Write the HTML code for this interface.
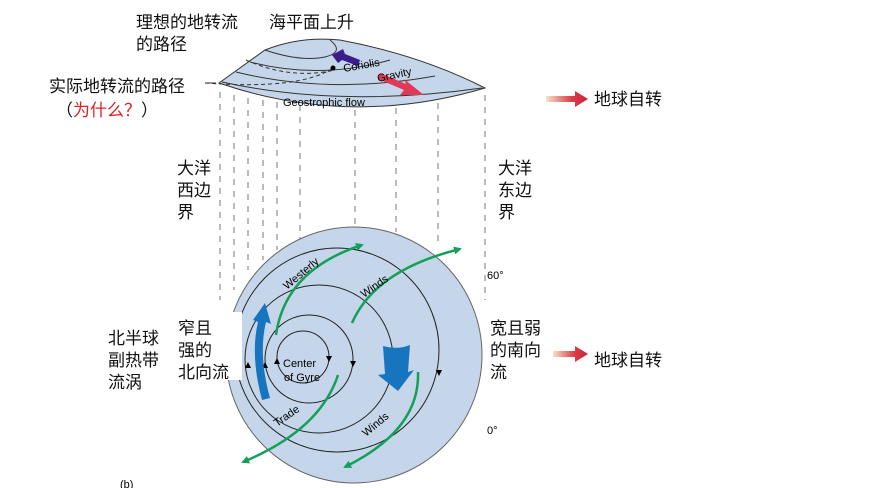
<!DOCTYPE html>
<html><head><meta charset="utf-8"><style>
body{margin:0;background:#fff;}
svg{display:block;font-family:"Liberation Sans","Noto Sans CJK SC",sans-serif;}
.cn{font-size:17px;fill:#111;}
</style></head><body>
<svg width="893" height="488" viewBox="0 0 893 488">
<defs>
<linearGradient id="ar" x1="0" x2="1"><stop offset="0" stop-color="#f6e3c8"/><stop offset="0.6" stop-color="#d8404a"/><stop offset="1" stop-color="#d01f36"/></linearGradient>
<marker id="g" markerWidth="8" markerHeight="8" refX="6" refY="4" orient="auto" markerUnits="userSpaceOnUse"><path d="M0,0 L8,4 L0,8 Z" fill="#14a058"/></marker>
</defs>
<g stroke="#777" stroke-width="1" stroke-dasharray="6,6">
<line x1="220" y1="92" x2="220" y2="300"/><line x1="234" y1="95" x2="234" y2="290"/><line x1="248" y1="98" x2="248" y2="270"/><line x1="263" y1="100" x2="263" y2="260"/><line x1="277" y1="102" x2="277" y2="250"/><line x1="300" y1="105" x2="300" y2="240"/><line x1="355" y1="110" x2="355" y2="232"/><line x1="396" y1="108" x2="396" y2="232"/><line x1="438" y1="103" x2="438" y2="245"/><line x1="485" y1="95" x2="485" y2="300"/>
</g>
<path d="M219,83 L265,50 Q300,36 340,40 Q420,55 485,88 Q350,128 219,83 Z" fill="#c5d6ea" stroke="#333" stroke-width="1"/>
<g fill="none" stroke="#333" stroke-width="1">
<path d="M265,50 Q300,62 325,57 Q345,52 330,40"/>
<path d="M250,62 Q320,80 390,60"/>
<path d="M236,72 Q330,95 435,76"/>
<path d="M222,82 Q340,108 482,88"/>
</g>
<g fill="none" stroke="#333" stroke-dasharray="4,3">
<path d="M246,60 Q290,80 335,70"/>
<path d="M205,83 Q300,90 333,68"/>
</g>
<circle cx="333" cy="68" r="2.5" fill="#000"/>
<path d="M360,60 L345,54 L343,49 L332,55 L338,63 L342,60 L358,66 Z" fill="#3a1d8a"/>
<path d="M380,73 L406,84 L404,79 L424,95 L400,95 L404,90 L378,79 Z" fill="#e03a58"/>
<text x="344" y="72" font-size="11" transform="rotate(-10 344 72)">Coriolis</text>
<text x="378" y="82" font-size="11" transform="rotate(-12 378 82)">Gravity</text>
<text x="283" y="106" font-size="11">Geostrophic flow</text>
<circle cx="354" cy="355" r="128" fill="#c5d6ea" stroke="#666"/>
<g fill="none" stroke="#222" stroke-width="1">
<circle cx="303" cy="357" r="26"/>
<circle cx="309" cy="359" r="44"/>
<circle cx="319" cy="359" r="74"/>
<circle cx="337" cy="350" r="102"/>
</g>
<g fill="#000">
<path d="M277,358 l-3,6 h6 z"/><path d="M265,362 l-3,6 h6 z"/><path d="M248,362 l-3,6 h6 z"/>
<path d="M329,362 l-3,-6 h6 z"/><path d="M353,367 l-3,-6 h6 z"/><path d="M393,372 l-3,-6 h6 z"/><path d="M439,376 l-3,-6 h6 z"/>
</g>
<path d="M262,400 Q250,355 258,322 L253,320 L265,303 L271,324 L266,322 Q258,355 270,398 Z" fill="#1775c0"/>
<path d="M383,346 Q398,350 410,345 L408,372 L414,370 L398,391 L378,375 L385,374 Z" fill="#1775c0"/>
<g fill="none" stroke="#14a058" stroke-width="2.5" marker-end="url(#g)">
<path d="M276,335 Q285,270 362,245"/>
<path d="M352,323 Q375,270 460,249"/>
<path d="M338,375 Q320,430 243,462"/>
<path d="M418,372 Q420,430 345,467"/>
</g>
<text x="283" y="367" font-size="11">Center</text><text x="284" y="381" font-size="11">of Gyre</text>
<text x="287" y="290" font-size="11" transform="rotate(-40 287 290)">Westerly</text>
<text x="364" y="298" font-size="11" transform="rotate(-35 364 298)">Winds</text>
<text x="277" y="427" font-size="11" transform="rotate(-35 277 427)">Trade</text>
<text x="366" y="437" font-size="11" transform="rotate(-40 366 437)">Winds</text>
<text x="487" y="279" font-size="11">60°</text>
<text x="487" y="434" font-size="11">0°</text>
<rect x="170" y="312" width="72" height="68" fill="#fff"/>
<text class="cn" x="136" y="28">理想的地转流</text>
<text class="cn" x="136" y="50">的路径</text>
<text class="cn" x="269" y="28">海平面上升</text>
<text class="cn" x="49" y="92">实际地转流的路径</text>
<text class="cn" x="56" y="116">（<tspan fill="#e02020">为什么？</tspan>）</text>
<line x1="205" y1="83" x2="216" y2="83" stroke="#333"/>
<text class="cn" x="177" y="174">大洋</text><text class="cn" x="177" y="196">西边</text><text class="cn" x="177" y="218">界</text>
<text class="cn" x="498" y="174">大洋</text><text class="cn" x="498" y="196">东边</text><text class="cn" x="498" y="218">界</text>
<text class="cn" x="108" y="344">北半球</text><text class="cn" x="108" y="366">副热带</text><text class="cn" x="108" y="388">流涡</text>
<text class="cn" x="178" y="334">窄且</text><text class="cn" x="178" y="356">强的</text><text class="cn" x="178" y="378">北向流</text>
<text class="cn" x="490" y="334">宽且弱</text><text class="cn" x="490" y="356">的南向</text><text class="cn" x="490" y="378">流</text>
<path d="M546,96 L575,96 L575,91 L588,99 L575,107 L575,102 L546,102 Z" fill="url(#ar)"/>
<text class="cn" x="594" y="105">地球自转</text>
<path d="M553,351 L575,351 L575,346 L588,354 L575,362 L575,357 L553,357 Z" fill="url(#ar)"/>
<text class="cn" x="594" y="366">地球自转</text>
<text x="120" y="488" font-size="11">(b)</text>
</svg>
</body></html>
